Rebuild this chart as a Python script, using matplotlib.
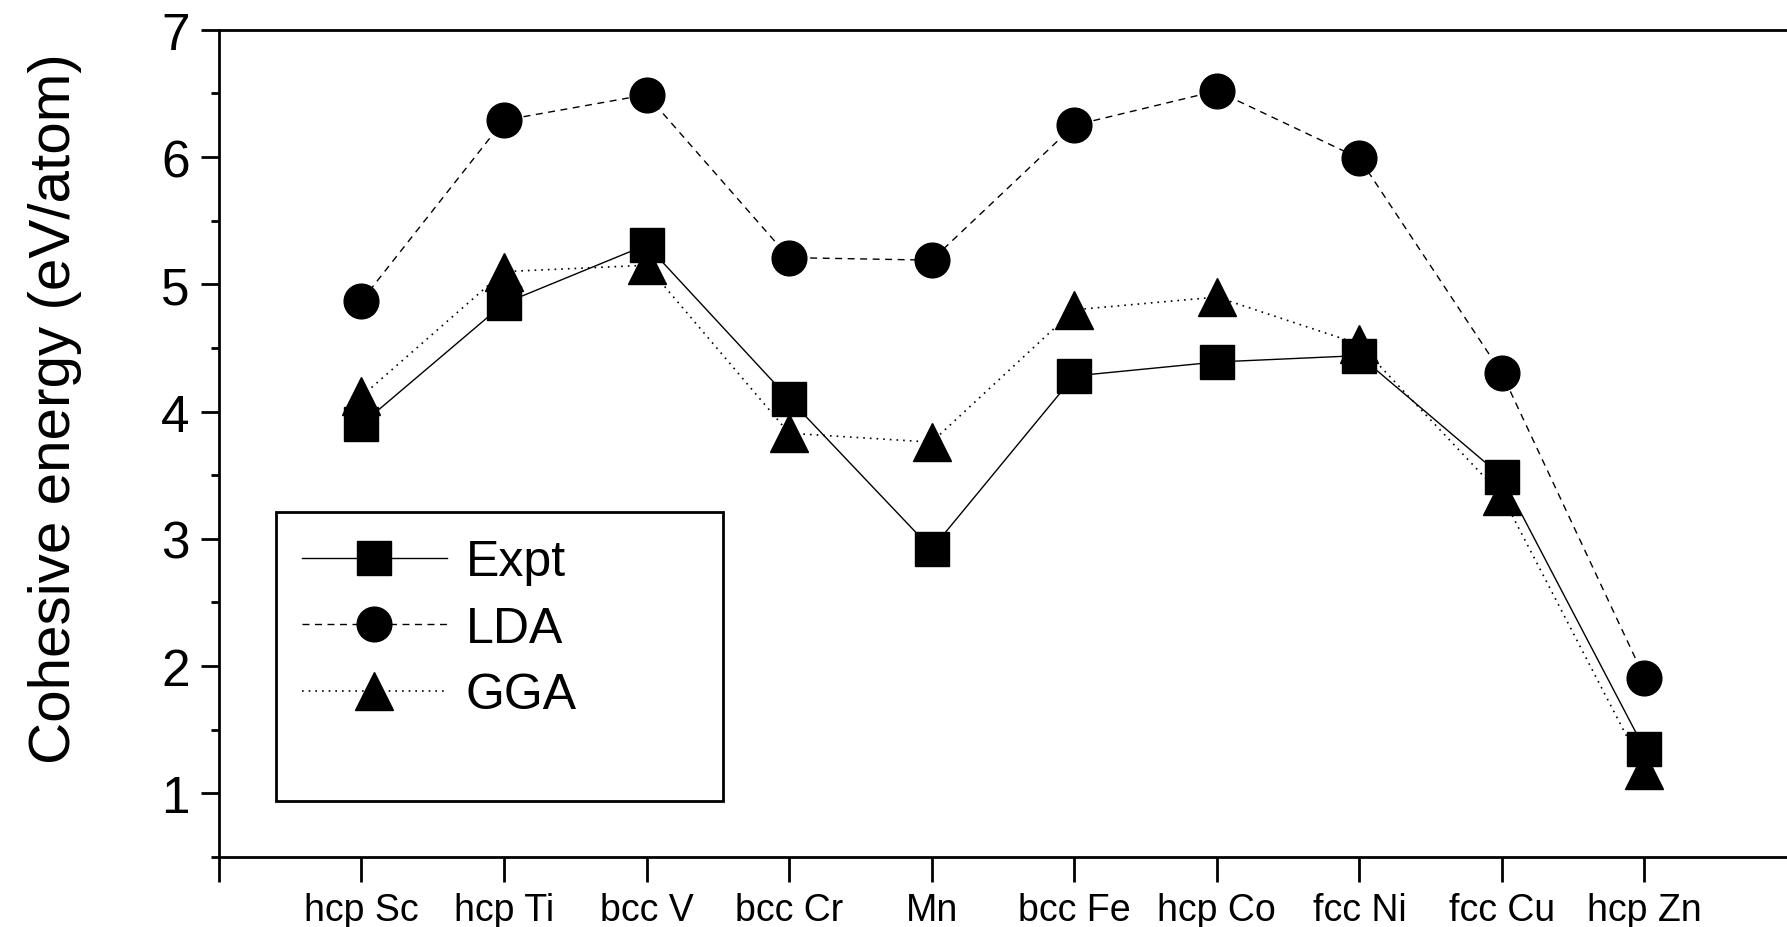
import matplotlib.pyplot as plt
from matplotlib.ticker import MultipleLocator
from matplotlib.patches import Rectangle

plt.rcParams['font.family'] = ['Liberation Sans', 'DejaVu Sans']

metals = ['hcp Sc', 'hcp Ti', 'bcc V', 'bcc Cr', 'Mn',
          'bcc Fe', 'hcp Co', 'fcc Ni', 'fcc Cu', 'hcp Zn']
expt = [3.90, 4.85, 5.31, 4.10, 2.92, 4.28, 4.39, 4.44, 3.49, 1.35]
lda = [4.87, 6.29, 6.49, 5.21, 5.19, 6.25, 6.52, 5.99, 4.30, 1.91]
gga = [4.12, 5.10, 5.15, 3.83, 3.76, 4.80, 4.90, 4.53, 3.34, 1.18]

x = list(range(1, len(metals) + 1))

fig = plt.figure(figsize=(17.87, 9.28), dpi=100)
ax = fig.add_axes([0.1225, 0.0754, 0.8775, 0.8914])

ax.plot(x, expt, color='black', linestyle='-', linewidth=1.0,
        marker='s', markersize=24, label='Expt')
ax.plot(x, lda, color='black', linestyle=(0, (5, 4)), linewidth=1.0,
        marker='o', markersize=25, label='LDA')
ax.plot(x, gga, color='black', linestyle=(0, (1, 3)), linewidth=1.2,
        marker='^', markersize=27, label='GGA')

ax.set_xlim(0, 11)
ax.set_ylim(0.5, 7)
ax.set_xticks(range(0, 11))
ax.set_xticklabels([''] + metals, fontsize=27)
ax.yaxis.set_major_locator(MultipleLocator(1))
ax.yaxis.set_minor_locator(MultipleLocator(0.5))
ax.set_yticks(range(1, 8))
ax.tick_params(axis='y', which='major', length=13, width=2, labelsize=37, pad=8)
ax.tick_params(axis='y', which='minor', length=6, width=2)
ax.tick_params(axis='x', which='major', length=18, width=2, pad=7)

ax.spines['right'].set_visible(False)
for s in ['left', 'bottom', 'top']:
    ax.spines[s].set_linewidth(2)

ax.set_ylabel('Cohesive energy (eV/atom)', fontsize=42)
ax.yaxis.set_label_coords(-0.087, 0.543)

# legend box is larger than its entries in the original
ax.add_patch(Rectangle((0.0364, 0.0677), 0.285, 0.3495, transform=ax.transAxes,
                       fill=False, edgecolor='black', linewidth=2, zorder=5))
leg = ax.legend(loc='upper left', bbox_to_anchor=(0.0529, 0.384), fontsize=36,
                frameon=False, handlelength=2.9, handletextpad=0.38,
                labelspacing=0.41, borderpad=0, borderaxespad=0)

plt.savefig('out.png', dpi=100)
